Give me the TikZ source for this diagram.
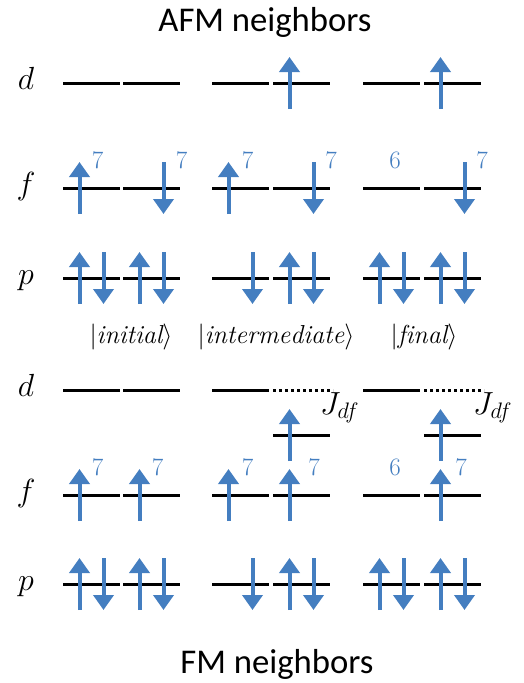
\RequirePackage{fix-cm}
\documentclass[tikz,border=0pt]{standalone}
\usepackage{fontspec}
\newfontfamily\calibri{Carlito}
\usetikzlibrary{arrows.meta}
\definecolor{spinblue}{RGB}{68,126,192}
\tikzset{
  lev/.style={line width=3pt},
  levdot/.style={line width=3pt,dash pattern=on 3pt off 3pt},
  spin/.style={draw=spinblue,line width=4pt,-{Triangle[width=20pt,length=15pt]}},
  orb/.style={font=\fontsize{32}{36}\selectfont,inner sep=0pt,anchor=base},
  occ/.style={text=spinblue,font=\fontsize{25}{28}\selectfont,inner sep=0pt},
  ket/.style={font=\fontsize{26}{30}\selectfont,inner sep=0pt},
  head/.style={font=\calibri\fontsize{34.7}{40}\selectfont,inner sep=0pt,anchor=base}
}
\newcommand{\level}[2]{\draw[lev] (#1,#2) -- ++(57,0);}
\newcommand{\spinup}[2]{\draw[spin] (#1,#2+26) -- (#1,#2-26);}
\newcommand{\spindn}[2]{\draw[spin] (#1,#2-26) -- (#1,#2+26);}
\begin{document}
\begin{tikzpicture}[x=1pt,y=-1pt]
	\useasboundingbox (0,0) rectangle (523,683);
	% left ends of the levels
	\def \ca{63} \def \cb{123} \def \cc{212}
	\def \cd{273} \def \ce{363} \def \cf{424}
	% rows: upper (AFM) and lower (FM)
	\def \yd{83} \def \yf{188} \def \yp{278}
	\def \Yd{390} \def \Yj{435} \def \Yf{495} \def \Yp{584}
	% titles
	\node[head] (afm) at (265,31) {AFM neighbors};
	\node[head] (fm) at (277,673) {FM neighbors};
	% orbital names
	\node[orb] (ud) at (26,\yd+6) {$d$};
	\node[orb] (uf) at (26,\yf+6) {$f$};
	\node[orb] (up) at (26,\yp+6) {$p$};
	\node[orb] (ld) at (26,\Yd+6) {$d$};
	\node[orb] (lf) at (26,\Yf+6) {$f$};
	\node[orb] (lp) at (26,\Yp+6) {$p$};
	% levels
	\foreach \c in {\ca,\cb,\cc,\cd,\ce,\cf}{
		\level{\c}{\yd} \level{\c}{\yf} \level{\c}{\yp}
		\level{\c}{\Yf} \level{\c}{\Yp}}
	\foreach \c in {\ca,\cb,\cc,\ce}{\level{\c}{\Yd}}
	\draw[levdot] (\cd,\Yd) -- ++(60,0);
	\draw[levdot] (\cf,\Yd) -- ++(60,0);
	\level{\cd}{\Yj} \level{\cf}{\Yj}
	% AFM spins
	\spinup{\cd+16.5}{\yd} \spinup{\cf+16.5}{\yd}
	\spinup{\ca+16.5}{\yf} \spindn{\cb+40.5}{\yf}
	\spinup{\cc+16.5}{\yf} \spindn{\cd+40.5}{\yf}
	\spindn{\cf+40.5}{\yf}
	% FM spins
	\spinup{\cd+16.5}{\Yj} \spinup{\cf+16.5}{\Yj}
	\foreach \c in {\ca,\cb,\cc,\cd,\cf}{\spinup{\c+16.5}{\Yf}}
	% p shells, same in both
	\foreach \y in {\yp,\Yp}{
		\foreach \c in {\ca,\cb,\cd,\ce,\cf}{
			\spinup{\c+16.5}{\y} \spindn{\c+40.5}{\y}}
		\spindn{\cc+40.5}{\y}}
	% f occupations
	\node[occ] (na1) at (97.5,160) {7};
	\node[occ] (na2) at (181.5,160) {7};
	\node[occ] (na3) at (247.5,160) {7};
	\node[occ] (na4) at (331,160) {7};
	\node[occ] (na5) at (395,160) {6};
	\node[occ] (na6) at (482,160) {7};
	\node[occ] (nf1) at (97.5,467) {7};
	\node[occ] (nf2) at (157.5,467) {7};
	\node[occ] (nf3) at (247.5,467) {7};
	\node[occ] (nf4) at (314,467) {7};
	\node[occ] (nf5) at (395,467) {6};
	\node[occ] (nf6) at (461,467) {7};
	% states
	\node[ket] (ini) at (131,337) {$|\mathit{initial}\rangle$};
	\node[ket] (mid) at (276,337) {$|\mathit{intermediate}\rangle$};
	\node[ket] (fin) at (424,337) {$|\mathit{final}\rangle$};
	% exchange
	\node[orb,anchor=base west] (jm) at (320,414) {$J_{df}$};
	\node[orb,anchor=base west] (jf) at (473,414) {$J_{df}$};
\end{tikzpicture}
\end{document}
